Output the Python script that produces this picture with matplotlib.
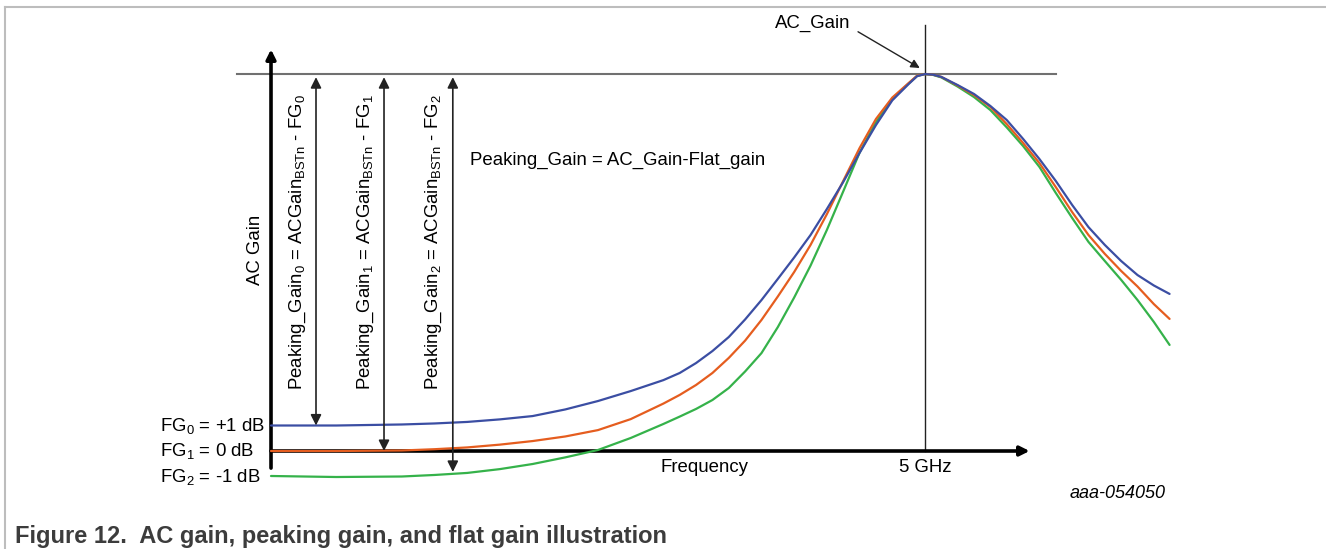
import matplotlib
matplotlib.use("Agg")
import matplotlib.pyplot as plt
from matplotlib.lines import Line2D

plt.rcParams['font.family'] = ['Liberation Sans', 'DejaVu Sans']
plt.rcParams['mathtext.fontset'] = 'custom'
plt.rcParams['mathtext.rm'] = 'Liberation Sans'
plt.rcParams['mathtext.it'] = 'Liberation Sans:italic'

# frequency points (GHz) and gain (dB)
freq = [0, 0.5, 1.0, 1.25, 1.5, 1.75, 2.0, 2.25, 2.5, 2.75, 3.0,
        3.125, 3.25, 3.375, 3.5, 3.625, 3.75, 3.875, 4.0, 4.125, 4.25,
        4.375, 4.5, 4.625, 4.75, 4.875, 4.94, 5.0, 5.06, 5.125, 5.25, 5.375, 5.5,
        5.625, 5.75, 5.875, 6.0, 6.125, 6.25, 6.375, 6.5, 6.625, 6.75, 6.87]
gain_fg0 = [1.00, 1.00, 1.04, 1.08, 1.14, 1.24, 1.37, 1.63, 1.96, 2.35, 2.78,
            3.06, 3.45, 3.92, 4.47, 5.16, 5.92, 6.75, 7.59, 8.47, 9.49,
            10.55, 11.69, 12.78, 13.75, 14.39, 14.70, 14.78, 14.76, 14.67, 14.35, 14.00, 13.53,
            12.98, 12.24, 11.45, 10.59, 9.65, 8.78, 8.08, 7.45, 6.90, 6.49, 6.16]
gain_fg1 = [0.00, 0.00, 0.02, 0.07, 0.14, 0.25, 0.39, 0.57, 0.82, 1.25, 1.86,
            2.20, 2.59, 3.06, 3.65, 4.33, 5.14, 6.06, 7.02, 8.08, 9.29,
            10.59, 11.88, 13.02, 13.86, 14.43, 14.72, 14.78, 14.76, 14.67, 14.33, 13.96, 13.49,
            12.82, 12.08, 11.29, 10.35, 9.37, 8.47, 7.73, 7.06, 6.45, 5.76, 5.18]
gain_fg2 = [-0.98, -1.02, -1.00, -0.94, -0.86, -0.71, -0.51, -0.25, 0.04, 0.51, 1.06,
            1.35, 1.65, 2.00, 2.47, 3.12, 3.84, 4.86, 6.02, 7.27, 8.67,
            10.18, 11.70, 12.90, 13.80, 14.41, 14.71, 14.78, 14.75, 14.65, 14.29, 13.88, 13.37,
            12.69, 11.96, 11.14, 10.12, 9.14, 8.20, 7.45, 6.71, 5.92, 5.06, 4.16]

flat_gains = [1, 0, -1]
flat_labels = ['FG$_{\\mathrm{0}}$ = +1 dB', 'FG$_{\\mathrm{1}}$ = 0 dB', 'FG$_{\\mathrm{2}}$ = -1 dB']
peak_labels = ['Peaking_Gain$_{\\mathrm{0}}$ = ACGain$_{\\mathrm{BSTn}}$ - FG$_{\\mathrm{0}}$',
               'Peaking_Gain$_{\\mathrm{1}}$ = ACGain$_{\\mathrm{BSTn}}$ - FG$_{\\mathrm{1}}$',
               'Peaking_Gain$_{\\mathrm{2}}$ = ACGain$_{\\mathrm{BSTn}}$ - FG$_{\\mathrm{2}}$']
arrow_freqs = [0.344, 0.864, 1.39]
label_freqs = [0.206, 0.726, 1.246]
ac_gain = 14.78
f_peak = 5.0

blue, orange, green = '#3b4ea3', '#e55d1f', '#35b24a'
fs = 13.4

fig = plt.figure(figsize=(13.26, 5.49), dpi=100)
ax = fig.add_axes([0, 0, 1, 1])
ax.set_xlim(-2.072, 8.066)
ax.set_ylim(-3.843, 17.686)
ax.axis('off')

# frame
fig.add_artist(Line2D([0.0038, 1], [0.987, 0.987], color='#bdbdbd', lw=1.5))
fig.add_artist(Line2D([0.0038, 0.0038], [0, 0.987], color='#bdbdbd', lw=1.5))

# AC gain level and 5 GHz marker
ax.plot([-0.26, 6.0], [ac_gain, ac_gain], color='#707070', lw=1.5, zorder=2)
ax.plot([f_peak, f_peak], [0, 16.7], color='#222222', lw=1.0, zorder=2)

# axes arrows
ax.annotate('', xy=(0, 15.75), xytext=(0, -0.67),
            arrowprops=dict(arrowstyle='-|>', lw=2.6, color='black',
                            mutation_scale=14, shrinkA=0, shrinkB=0), zorder=3)
ax.annotate('', xy=(5.8, 0), xytext=(0, 0),
            arrowprops=dict(arrowstyle='-|>', lw=2.6, color='black',
                            mutation_scale=14, shrinkA=0, shrinkB=0), zorder=3)

# curves
ax.plot(freq, gain_fg2, color=green, lw=1.6, zorder=4, solid_capstyle='round', solid_joinstyle='round')
ax.plot(freq, gain_fg1, color=orange, lw=1.6, zorder=5, solid_capstyle='round', solid_joinstyle='round')
ax.plot(freq, gain_fg0, color=blue, lw=1.6, zorder=6, solid_capstyle='round', solid_joinstyle='round')

# peaking gain arrows and labels
for fa, fl, fg, lab in zip(arrow_freqs, label_freqs, flat_gains, peak_labels):
    bottom = fg if fg > -1 else -0.82
    ax.annotate('', xy=(fa, ac_gain - 0.12), xytext=(fa, bottom),
                arrowprops=dict(arrowstyle='<|-|>', lw=1.2, color='#222222',
                                mutation_scale=16, shrinkA=0, shrinkB=0), zorder=7)
    ax.text(fl, 8.2, lab, rotation=90, ha='center', va='center', fontsize=fs)

for fg, lab in zip(flat_gains, flat_labels):
    ax.text(-0.849, fg, lab, ha='left', va='center', fontsize=fs)

ax.text(-0.115, 7.9, 'AC Gain', rotation=90, ha='center', va='center', fontsize=fs)
ax.text(1.521, 11.41, 'Peaking_Gain = AC_Gain-Flat_gain', ha='left', va='center', fontsize=fs)
ax.text(3.318, -0.63, 'Frequency', ha='center', va='center', fontsize=fs)
ax.text(f_peak, -0.63, '5 GHz', ha='center', va='center', fontsize=fs)

ax.annotate('AC_Gain', xy=(4.96, 15.02), xytext=(3.853, 16.75),
            ha='left', va='center', fontsize=fs,
            arrowprops=dict(arrowstyle='-|>', lw=1.0, color='#222222',
                            mutation_scale=13, shrinkA=4, shrinkB=0,
                            relpos=(1.0, 0.3)))

ax.text(6.84, -1.65, 'aaa-054050', ha='right', va='center', fontsize=13, style='italic')

fig.text(0.0113, 0.011, 'Figure 12.  AC gain, peaking gain, and flat gain illustration',
         ha='left', va='baseline', fontsize=17, fontweight='bold', color='#3c3c3c')

fig.savefig('out.png', dpi=100)
